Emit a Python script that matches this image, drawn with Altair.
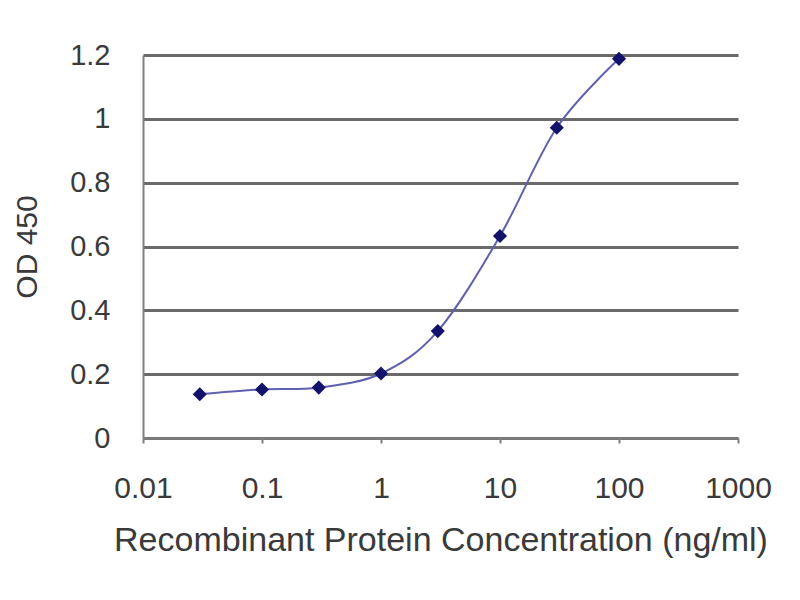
import altair as alt
import pandas as pd

conc = [0.03, 0.1, 0.3, 1, 3, 10, 30, 100]
od450 = [0.137, 0.152, 0.158, 0.202, 0.335, 0.633, 0.972, 1.188]
x_ticks = [0.01, 0.1, 1, 10, 100, 1000]
y_ticks = [0, 0.2, 0.4, 0.6, 0.8, 1.0, 1.2]

df = pd.DataFrame({"conc": conc, "od": od450})

FONT = "Liberation Sans"
W, H = 595, 383

x_enc = alt.X(
    "conc:Q",
    scale=alt.Scale(type="log", domain=[0.01, 1000], nice=False),
    axis=alt.Axis(
        values=x_ticks,
        format="~g",
        title="Recombinant Protein Concentration (ng/ml)",
        grid=False,
        domainColor="#808080",
        domainWidth=2,
        tickColor="#808080",
        tickWidth=2,
        tickSize=5,
        labelPadding=30,
        labelFlush=False,
        labelOverlap=False,
        labelFont=FONT,
        labelFontSize=30,
        labelColor="#3a3a3a",
        titleFont=FONT,
        titleFontSize=34,
        titleFontWeight="normal",
        titleColor="#3a3a3a",
        titleX=W / 2,
        titleY=102,
        titleBaseline="middle",
    ),
)

y_enc = alt.Y(
    "od:Q",
    scale=alt.Scale(domain=[0, 1.2], nice=False),
    axis=alt.Axis(
        values=y_ticks,
        format="~g",
        title="OD 450",
        grid=True,
        gridColor="#6a6a6a",
        gridWidth=3,
        domainColor="#808080",
        domainWidth=2,
        tickColor="#808080",
        tickSize=0,
        labelPadding=33,
        labelFont=FONT,
        labelFontSize=29,
        labelColor="#3a3a3a",
        titleFont=FONT,
        titleFontSize=30,
        titleFontWeight="normal",
        titleColor="#3a3a3a",
        titleX=-116,
        titleY=H / 2,
        titleBaseline="middle",
    ),
)

base = alt.Chart(df)

line = base.mark_line(interpolate="cardinal", color="#6060b0", strokeWidth=2).encode(
    x=x_enc, y=y_enc
)
points = base.mark_point(
    shape="diamond", filled=True, size=200, color="#12126a", opacity=1
).encode(x=x_enc, y=y_enc)

chart = (
    alt.layer(line, points)
    .properties(
        width=W,
        height=H,
        autosize=alt.AutoSizeParams(type="none"),
        padding={"left": 135, "top": 47, "right": 50, "bottom": 120},
        background="white",
    )
    .configure_view(stroke=None)
)

chart.save("out.html", embed_options={"renderer": "svg", "actions": False})
